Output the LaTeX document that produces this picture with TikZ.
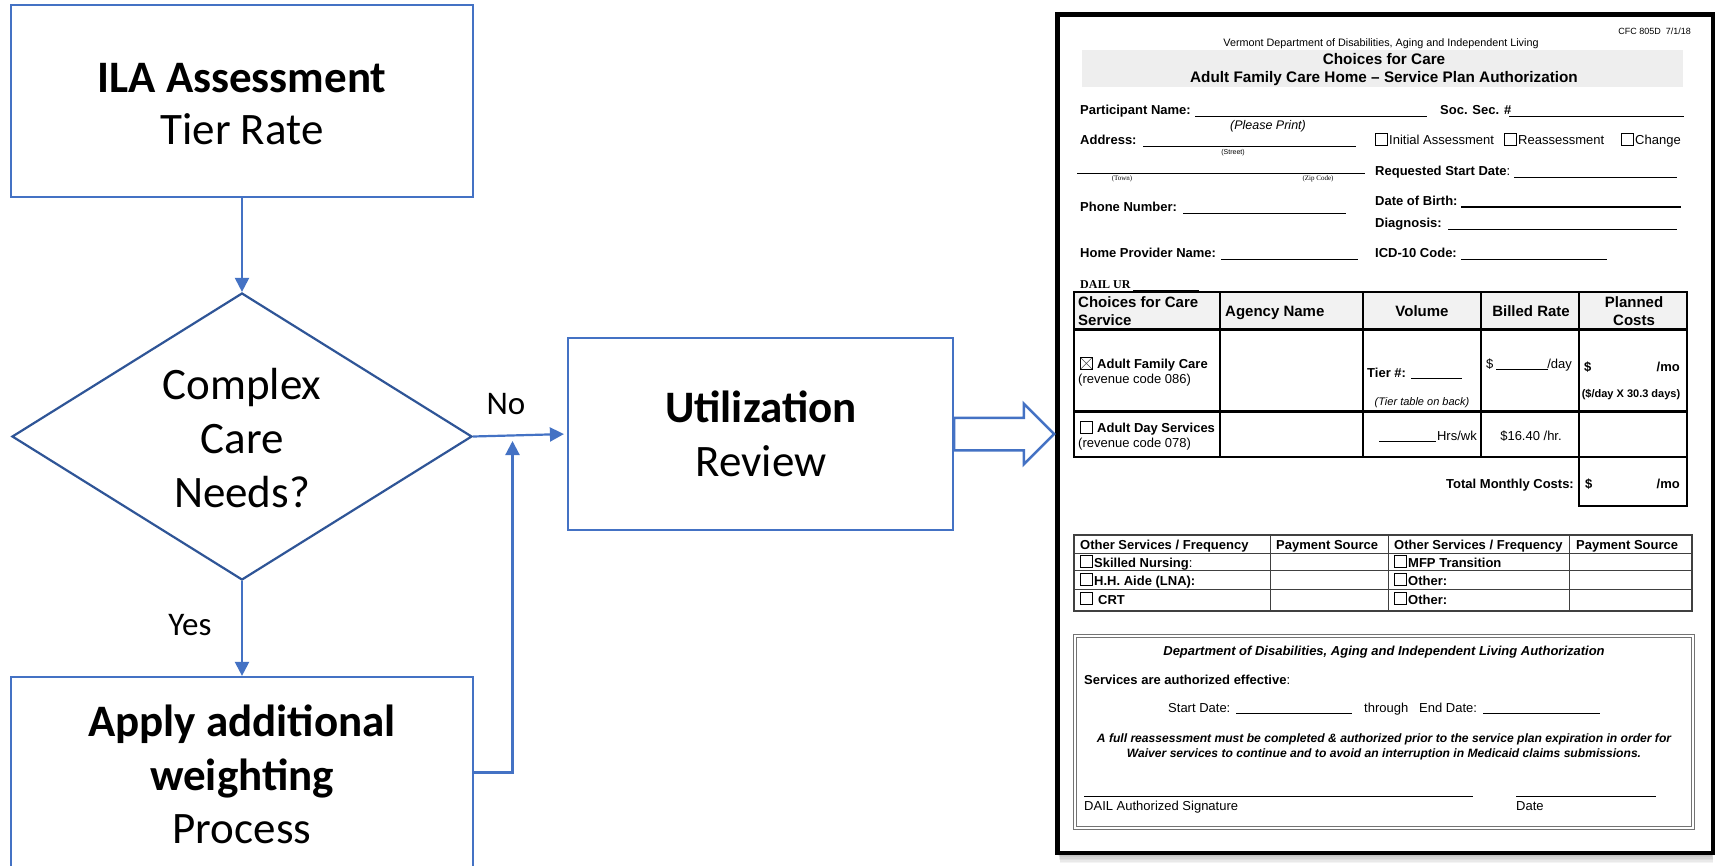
\documentclass[tikz,border=0pt]{standalone}
\usepackage{fontspec}
\setmainfont{Carlito}
\newfontfamily\formsans[Ligatures=TeX]{Liberation Sans}
\newfontfamily\formserif[Ligatures=TeX]{Liberation Serif}
\usetikzlibrary{arrows.meta,shapes.geometric,shapes.arrows}

\definecolor{flowblue}{HTML}{4472C4}
\definecolor{flowdark}{HTML}{2F5597}
\definecolor{bandgray}{HTML}{EEEEEE}
\definecolor{headgray}{HTML}{F2F2F2}

\newcommand{\FormR}[1]{\formsans\fontsize{#1}{#1}\selectfont}
\newcommand{\FormB}[1]{\formsans\bfseries\fontsize{#1}{#1}\selectfont}
\newcommand{\FormI}[1]{\formsans\itshape\fontsize{#1}{#1}\selectfont}
\newcommand{\FormBI}[1]{\formsans\bfseries\itshape\fontsize{#1}{#1}\selectfont}
\newcommand{\FormS}[1]{\formserif\fontsize{#1}{#1}\selectfont}
\newcommand{\FormSB}[1]{\formserif\bfseries\fontsize{#1}{#1}\selectfont}

\begin{document}
\begin{tikzpicture}[x=1pt,y=-1pt,
  flowbox/.style={draw=flowblue, line width=2.2pt, inner sep=0pt},
  decision/.style={diamond, draw=flowdark, line width=2.2pt, inner sep=0pt},
  flowtext/.style={font={\fontsize{45}{54}\selectfont}, inner sep=0pt, anchor=base},
  flowbold/.style={font={\bfseries\fontsize{45}{54}\selectfont}, inner sep=0pt, anchor=base},
  flowlabel/.style={font={\fontsize{33}{40}\selectfont}, inner sep=0pt, anchor=base},
  flowarrow/.style={draw=flowblue, line width=2.2pt, -{Triangle[length=14pt,width=14pt]}},
  formreg/.style={inner sep=0pt, anchor=base west, font={\FormR{#1}}},
  formreg/.default=13,
  formbold/.style={inner sep=0pt, anchor=base west, font={\FormB{#1}}},
  formbold/.default=13,
  formital/.style={inner sep=0pt, anchor=base west, font={\FormI{#1}}},
  formital/.default=12,
  formbi/.style={inner sep=0pt, anchor=base west, font={\FormBI{#1}}},
  formbi/.default=13,
  formserif/.style={inner sep=0pt, anchor=base, font={\FormS{#1}}},
  formserif/.default=7,
  uline/.style={line width=0.8pt},
  chk/.style={draw, line width=0.8pt, minimum size=12pt, inner sep=0pt, anchor=north west},
  chkx/.style={chk, path picture={
      \draw[line width=0.6pt, black!70]
        (path picture bounding box.north west) -- (path picture bounding box.south east)
        (path picture bounding box.south west) -- (path picture bounding box.north east);}},
]
% page area
\fill[white] (0,0) rectangle (1715,866);
\useasboundingbox (0,0) rectangle (1715,866);

% ---------------- flowchart ----------------
\node[flowbox, minimum width=462pt, minimum height=192pt] (ila) at (242,101) {};
\node[flowbold] (ilaA) at (242,92.5) {ILA Assessment};
\node[flowtext] (ilaB) at (242,144.5) {Tier Rate};

\node[decision, minimum width=460pt, minimum height=287pt] (dec) at (242,436.5) {};
\node[flowtext] (decA) at (242,399) {Complex};
\node[flowtext] (decB) at (242,453) {Care};
\node[flowtext] (decC) at (242,507) {Needs?};

\node[flowbox, minimum width=462pt, minimum height=191pt] (proc) at (242,772.5) {};
\node[flowbold] (procA) at (242,736) {Apply additional};
\node[flowbold] (procB) at (242,790) {weighting};
\node[flowtext] (procC) at (242,843) {Process};

\node[flowbox, minimum width=385pt, minimum height=192pt] (ur) at (760.5,434) {};
\node[flowbold] (urA) at (761,422) {Utilization};
\node[flowtext] (urB) at (761,476) {Review};

\node[flowlabel] (no) at (506,414) {No};
\node[flowlabel] (yes) at (190,635) {Yes};
\coordinate (merge) at (512.5,441);

\draw[flowarrow] (ila) -- (dec);
\draw[flowarrow] (dec) -- (proc);
\draw[flowarrow, shorten >=3pt] (dec.east) -- (ur.west);
\draw[flowarrow] (proc.east) -| (merge);

% ---------------- form page ----------------
\foreach \k in {1,...,8}
  \fill[black, opacity=0.045] (1057+\k*0.4,14+\k) rectangle (1711+\k*0.3,851+\k*1.5);
\node[draw, line width=4.5pt, fill=white, minimum width=655.5pt, minimum height=838.5pt,
      inner sep=0pt, anchor=north west] (form) at (1055.25,12.25) {};

\node[single arrow, draw=flowblue, line width=2.5pt, fill=white,
      minimum height=100pt, minimum width=58pt, single arrow head extend=14pt,
      inner xsep=0pt, inner ysep=15pt, outer sep=0pt, anchor=tail] (bigarrow) at (ur.east) {};

% heading
\node[formreg=9, anchor=base east] (code) at (1691,35) {CFC 805D\ \ 7/1/18};
\node[formreg=10.8, anchor=base] (dept) at (1381,47) {Vermont Department of Disabilities, Aging and Independent Living};
\fill[bandgray] (1082,50) rectangle (1683,87);
\node[formbold=15.3, anchor=base] (title1) at (1384,65) {Choices for Care};
\node[formbold=15.3, anchor=base] (title2) at (1384,83) {Adult Family Care Home – Service Plan Authorization};

% participant fields
\node[formbold] (pname) at (1080,115) {Participant Name:};
\draw[uline] (1195,116) -- (1427,116);
\node[formbold] (ssn) at (1440,115) {Soc. Sec. \#};
\draw[uline] (1509,116) -- (1684,116);
\node[formital=12.5, anchor=base] (print) at (1268,130) {(Please Print)};

\node[formbold] (addr) at (1080,145) {Address:};
\draw[uline] (1143,146) -- (1356,146);
\node[formreg=7, anchor=base] (street) at (1233,155) {(Street)};
\draw[uline] (1077,173) -- (1365,173);
\node[formserif] (town) at (1122,181) {(Town)};
\node[formserif] (zip) at (1318,181) {(Zip Code)};

\node[chk] (cbInit) at (1375,133) {};
\node[formreg] (init) at (1389,145) {Initial Assessment};
\node[chk] (cbRe) at (1504,133) {};
\node[formreg] (reas) at (1518,145) {Reassessment};
\node[chk] (cbCh) at (1621,133) {};
\node[formreg] (chg) at (1635,145) {Change};

\node[formbold] (rsd) at (1375,176) {Requested Start Date{\mdseries :}};
\draw[uline] (1514,177) -- (1677,177);
\node[formbold] (phone) at (1080,212) {Phone Number:};
\draw[uline] (1183,213) -- (1346,213);
\node[formbold] (dob) at (1375,206) {Date of Birth:};
\draw[line width=1.6pt] (1461,207) -- (1681,207);
\node[formbold] (diag) at (1375,228) {Diagnosis:};
\draw[uline] (1448,229) -- (1677,229);
\node[formbold] (hpn) at (1080,258) {Home Provider Name:};
\draw[uline] (1221,259) -- (1358,259);
\node[formbold] (icd) at (1375,258) {ICD-10 Code:};
\draw[uline] (1461,259) -- (1607,259);
\node[inner sep=0pt, anchor=base west, font={\FormSB{12}}] (dailur) at (1080,289) {DAIL UR};
\draw[uline] (1133,290) -- (1199,290);

% service table
\fill[headgray] (1074,292) rectangle (1687,330);
\draw[line width=1.5pt] (1074,292) rectangle (1687,457);
\draw[line width=3pt] (1074,330) -- (1687,330) (1074,411) -- (1687,411);
\draw[line width=1.5pt] (1220,292) -- (1220,457) (1363,292) -- (1363,457)
  (1481,292) -- (1481,457) (1579,292) -- (1579,506) -- (1687,506) -- (1687,457);

\node[formbold=15] (h1a) at (1078,308) {Choices for Care};
\node[formbold=15] (h1b) at (1078,326) {Service};
\node[formbold=15] (h2) at (1225,317) {Agency Name};
\node[formbold=15, anchor=base] (h3) at (1422,317) {Volume};
\node[formbold=15, anchor=base] (h4) at (1531,317) {Billed Rate};
\node[formbold=15, anchor=base] (h5a) at (1634,308) {Planned};
\node[formbold=15, anchor=base] (h5b) at (1634,326) {Costs};

\node[chkx] (cbAfc) at (1080,357) {};
\node[formbold] (afc) at (1097,368) {Adult Family Care};
\node[formreg] (afcCode) at (1078,383) {(revenue code 086)};
\node[formbold] (tier) at (1367,377) {Tier \#:};
\draw[uline] (1411,378) -- (1462,378);
\node[formital=11, anchor=base] (tierNote) at (1422,405) {(Tier table on back)};
\node[formreg] (dayD) at (1486,368) {\$};
\draw[uline] (1496,369) -- (1548,369);
\node[formreg, anchor=base east] (dayU) at (1572,368) {/day};
\node[formbold] (moD) at (1584,371) {\$};
\node[formbold, anchor=base east] (moU) at (1680,371) {/mo};
\node[formbold=11, anchor=base] (moNote) at (1631,397) {(\$/day X 30.3 days)};

\node[chk] (cbAds) at (1080,421) {};
\node[formbold] (ads) at (1097,432) {Adult Day Services};
\node[formreg] (adsCode) at (1078,447) {(revenue code 078)};
\draw[uline] (1379,441) -- (1436,441);
\node[formreg, anchor=base east] (hrs) at (1477,440) {Hrs/wk};
\node[formreg, anchor=base] (rate) at (1531,440) {\$16.40 /hr.};

\node[formbold, anchor=base east] (total) at (1574,488) {Total Monthly Costs:};
\node[formbold] (totD) at (1585,488) {\$};
\node[formbold, anchor=base east] (totU) at (1680,488) {/mo};

% other services table
\draw[line width=1.5pt, black!75] (1074,535) rectangle (1692,611);
\draw[line width=0.9pt, black!75] (1074,553) -- (1692,553) (1074,570) -- (1692,570)
  (1074,589) -- (1692,589) (1270,535) -- (1270,611) (1388,535) -- (1388,611)
  (1569,535) -- (1569,611);
\node[formbold] (o1) at (1080,549) {Other Services / Frequency};
\node[formbold] (o2) at (1276,549) {Payment Source};
\node[formbold] (o3) at (1394,549) {Other Services / Frequency};
\node[formbold] (o4) at (1576,549) {Payment Source};
\node[chk] (cbSn) at (1080,555) {};
\node[formbold] (sn) at (1094,567) {Skilled Nursing{\mdseries :}};
\node[chk] (cbHh) at (1080,573) {};
\node[formbold] (hh) at (1094,585) {H.H. Aide (LNA):};
\node[chk] (cbCrt) at (1080,592) {};
\node[formbold] (crt) at (1098,604) {CRT};
\node[chk] (cbMfp) at (1394,555) {};
\node[formbold] (mfp) at (1408,567) {MFP Transition};
\node[chk] (cbOt1) at (1394,573) {};
\node[formbold] (ot1) at (1408,585) {Other:};
\node[chk] (cbOt2) at (1394,592) {};
\node[formbold] (ot2) at (1408,604) {Other:};

% authorization box
\draw[black!55, line width=1pt, double=white, double distance=2pt] (1075,636) rectangle (1693,828);
\node[formbi, anchor=base] (authT) at (1384,655) {Department of Disabilities, Aging and Independent Living Authorization};
\node[formbold] (eff) at (1084,684) {Services are authorized effective{\mdseries :}};
\node[formreg] (sd) at (1168,712) {Start Date:};
\draw[uline] (1236,713) -- (1352,713);
\node[formreg] (thru) at (1364,712) {through};
\node[formreg] (ed) at (1419,712) {End Date:};
\draw[uline] (1483,713) -- (1600,713);
\node[formbi=12.1, anchor=base] (note1) at (1384,742) {A full reassessment must be completed \& authorized prior to the service plan expiration in order for};
\node[formbi=12.1, anchor=base] (note2) at (1384,757) {Waiver services to continue and to avoid an interruption in Medicaid claims submissions.};
\draw[uline] (1084,796) -- (1473,796);
\draw[uline] (1516,796) -- (1656,796);
\node[formreg] (sig) at (1084,810) {DAIL Authorized Signature};
\node[formreg] (sigDate) at (1516,810) {Date};
\end{tikzpicture}
\end{document}
